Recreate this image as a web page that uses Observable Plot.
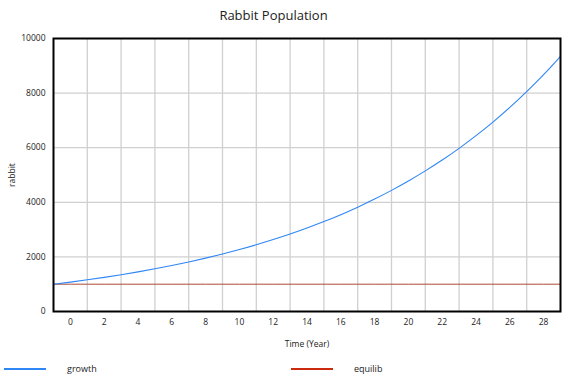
<!DOCTYPE html>
<html>
<head>
<meta charset="utf-8">
<script src="https://cdn.jsdelivr.net/npm/d3@7"></script>
<script src="https://cdn.jsdelivr.net/npm/@observablehq/plot@0.6"></script>
<style>
  html, body { margin: 0; padding: 0; background: #fff; }
  #wrap { position: relative; width: 576px; height: 384px; font-family: "Open Sans", sans-serif; }
  #title { position: absolute; left: 0; top: 6px; width: 547px; text-align: center; font-size: 13px; font-weight: 400; color: #222; }
  .leg { position: absolute; top: 362px; font-size: 9px; color: #222; }
  .legline { position: absolute; height: 2px; top: 368px; }
</style>
</head>
<body>
<div id="wrap">
  <div id="title">Rabbit Population</div>
  <div class="legline" style="left:4px;width:42px;background:#2f86f6"></div>
  <div class="leg" style="left:67px">growth</div>
  <div class="legline" style="left:291px;width:42px;background:#cc2a0e"></div>
  <div class="leg" style="left:354px">equilib</div>
</div>
<script>
// Simulation time (years, 0..30) and series
const time = [0,1,2,3,4,5,6,7,8,9,10,11,12,13,14,15,16,17,18,19,20,21,22,23,24,25,26,27,28,29,30];
const growth = [1000,1077,1161,1250,1347,1451,1564,1685,1815,1955,2106,2269,2445,2634,2838,3057,3294,3548,3823,4118,4437,4780,5150,5548,5977,6440,6938,7474,8052,8675,9346];
const equilib = [1000,1000,1000,1000,1000,1000,1000,1000,1000,1000,1000,1000,1000,1000,1000,1000,1000,1000,1000,1000,1000,1000,1000,1000,1000,1000,1000,1000,1000,1000,1000];
// Tick labels as shown (offset by one unit from the time positions)
const xTickLabels = [0,2,4,6,8,10,12,14,16,18,20,22,24,26,28];
const yTicks = [0,2000,4000,6000,8000,10000];
const xGrid = [2,4,6,8,10,12,14,16,18,20,22,24,26,28];
const yGrid = [2000,4000,6000,8000];

const gData = time.map((t, i) => ({t, v: growth[i]}));
const eData = time.map((t, i) => ({t, v: equilib[i]}));
const xTickPos = xTickLabels.map(d => d + 1);

const chart = Plot.plot({
  width: 576,
  height: 384,
  marginLeft: 53,
  marginRight: 16,
  marginTop: 38,
  marginBottom: 73,
  style: { fontFamily: "Open Sans, sans-serif", fontSize: "8.5px", color: "#222", background: "transparent" },
  x: { domain: [0, 30], ticks: xTickPos, tickFormat: d => String(d - 1), tickSize: 0, tickPadding: 7, label: "Time (Year)", labelAnchor: "center", labelArrow: "none", labelOffset: 35 },
  y: { domain: [0, 10000], ticks: yTicks, tickFormat: d => String(d), tickSize: 0, tickPadding: 8, label: "rabbit", labelAnchor: "center", labelArrow: "none", labelOffset: 45 },
  marks: [
    Plot.ruleX(xGrid, { stroke: "#d0d0d0", strokeWidth: 1.3 }),
    Plot.ruleY(yGrid, { stroke: "#d0d0d0", strokeWidth: 1.3 }),
    Plot.line(eData, { x: "t", y: "v", stroke: "#a53420", strokeWidth: 0.9 }),
    Plot.line(gData, { x: "t", y: "v", stroke: "#2f86f6", strokeWidth: 1.1, curve: "monotone-x" }),
    Plot.frame({ stroke: "#000", strokeWidth: 2 })
  ]
});
document.getElementById("wrap").prepend(chart);
chart.style.position = "absolute";
chart.style.left = "0";
chart.style.top = "0";
</script>
</body>
</html>
